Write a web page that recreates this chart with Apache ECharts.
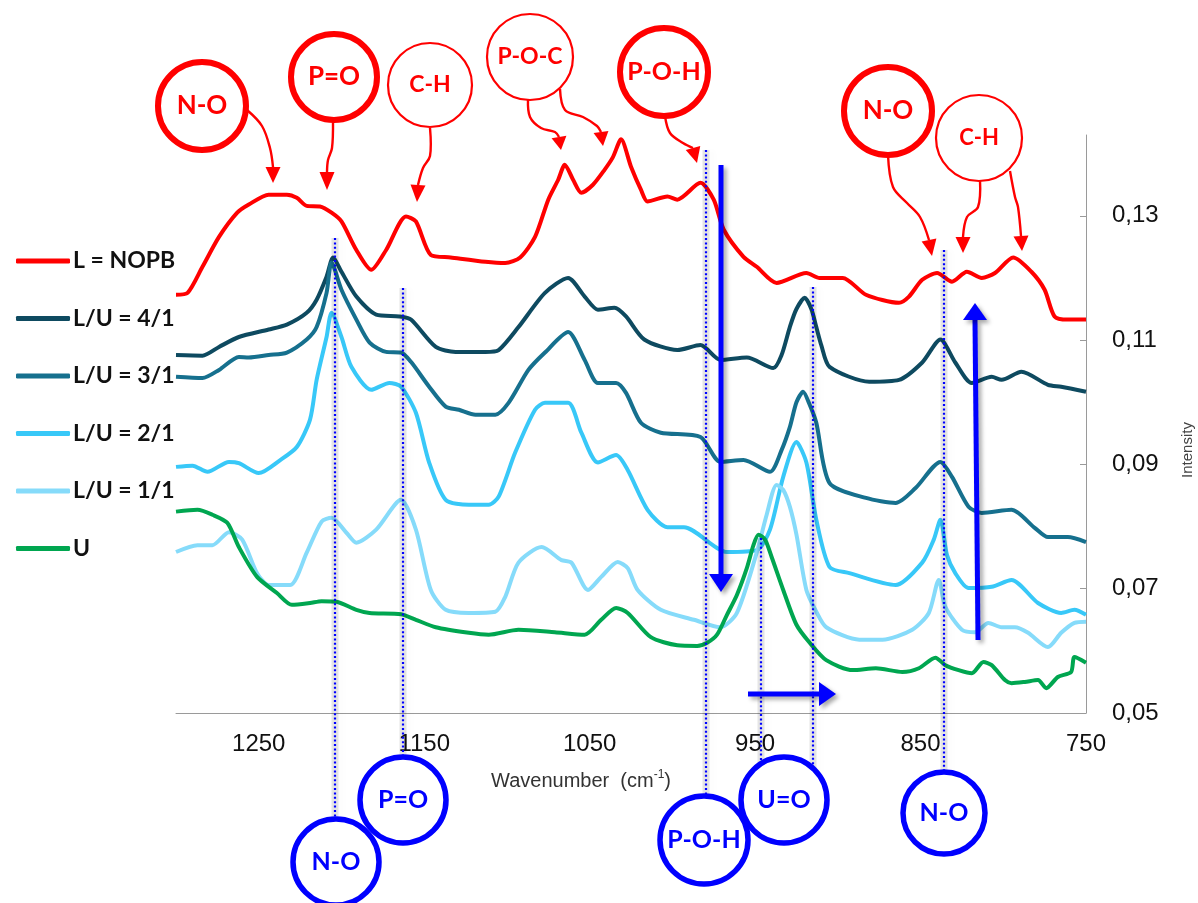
<!DOCTYPE html>
<html><head><meta charset="utf-8">
<script src="https://cdn.jsdelivr.net/npm/echarts@6/dist/echarts.min.js"></script>
<style>html,body{margin:0;padding:0;background:#fff}#c{width:1198px;height:903px}</style>
</head><body><div id="c"></div>
<script>
// ---- data (wavenumber cm-1, intensity) ----
const seriesNames = ['L = NOPB', 'L/U = 4/1', 'L/U = 3/1', 'L/U = 2/1', 'L/U = 1/1', 'U'];
const xTicks = [1250, 1150, 1050, 950, 850, 750];
const yTicks = [0.05, 0.07, 0.09, 0.11, 0.13];

const nopb = [[1300,0.1173],[1293,0.1176],[1284,0.1218],[1274,0.1266],[1263,0.1305],[1256,0.1318],[1244,0.1334],[1233,0.1334],[1227,0.1329],[1221,0.1316],[1213,0.1315],[1206,0.1305],[1200,0.1291],[1191,0.1245],[1182,0.1213],[1173,0.1245],[1161,0.1299],[1155,0.1291],[1146,0.1237],[1134,0.1233],[1113,0.1226],[1101,0.1224],[1092,0.1233],[1083,0.1266],[1075,0.1326],[1069,0.1358],[1065,0.1382],[1060,0.1358],[1055,0.1337],[1048,0.1350],[1041,0.1374],[1036,0.1394],[1031,0.1423],[1025,0.1379],[1019,0.1342],[1015,0.1323],[1003,0.1331],[997,0.1326],[983,0.1353],[975,0.1326],[969,0.1278],[957,0.1234],[949,0.1218],[937,0.1192],[919,0.1208],[911,0.1200],[897,0.1200],[883,0.1173],[863,0.1160],[857,0.1170],[849,0.1197],[840,0.1208],[831,0.1194],[822,0.1210],[813,0.1200],[805,0.1208],[794,0.1233],[783,0.1210],[775,0.1181],[769,0.1138],[761,0.1133],[750,0.1133]];

const lu41 = [[1300,0.1076],[1284,0.1075],[1274,0.1089],[1262,0.1105],[1244,0.1117],[1233,0.1125],[1221,0.1144],[1215,0.1165],[1209,0.1202],[1205,0.1233],[1200,0.1210],[1191,0.1170],[1179,0.1141],[1165,0.1138],[1158,0.1133],[1143,0.1089],[1131,0.1081],[1113,0.1081],[1105,0.1084],[1093,0.1121],[1077,0.1176],[1063,0.1200],[1053,0.1170],[1045,0.1149],[1035,0.1152],[1028,0.1138],[1017,0.1101],[997,0.1084],[983,0.1092],[971,0.1068],[955,0.1072],[939,0.1055],[934,0.1076],[929,0.1121],[925,0.1150],[920,0.1168],[916,0.1150],[913,0.1121],[910,0.1092],[905,0.1057],[881,0.1033],[863,0.1036],[849,0.1064],[838,0.1101],[829,0.1064],[819,0.1031],[807,0.1041],[801,0.1036],[789,0.1049],[773,0.1028],[765,0.1025],[750,0.1017]];

const lu31 = [[1300,0.1041],[1284,0.1039],[1274,0.1052],[1262,0.1073],[1256,0.1072],[1244,0.1076],[1233,0.1080],[1221,0.1101],[1215,0.1121],[1209,0.1176],[1206,0.1225],[1200,0.1181],[1191,0.1133],[1183,0.1096],[1173,0.1081],[1164,0.1080],[1158,0.1065],[1147,0.1025],[1137,0.0993],[1129,0.0988],[1119,0.0980],[1107,0.0980],[1099,0.0999],[1087,0.1052],[1077,0.1080],[1063,0.1113],[1053,0.1068],[1045,0.1031],[1034,0.1031],[1028,0.1015],[1019,0.0967],[1007,0.0951],[983,0.0944],[971,0.0904],[957,0.0907],[941,0.0888],[934,0.0923],[929,0.0960],[925,0.1000],[921,0.1017],[917,0.0996],[913,0.0967],[905,0.0870],[883,0.0846],[865,0.0838],[853,0.0862],[838,0.0904],[831,0.0880],[821,0.0832],[813,0.0822],[795,0.0827],[781,0.0798],[773,0.0783],[761,0.0783],[750,0.0775]];

const lu21 = [[1300,0.0896],[1290,0.0898],[1281,0.0888],[1268,0.0904],[1262,0.0902],[1250,0.0886],[1237,0.0907],[1227,0.0928],[1219,0.0972],[1215,0.1036],[1209,0.1105],[1206,0.1144],[1200,0.1105],[1194,0.1057],[1182,0.1020],[1171,0.1031],[1164,0.1025],[1155,0.0983],[1147,0.0903],[1137,0.0843],[1123,0.0835],[1111,0.0835],[1105,0.0848],[1095,0.0919],[1083,0.0988],[1077,0.0999],[1063,0.0999],[1055,0.0951],[1045,0.0903],[1034,0.0915],[1027,0.0891],[1015,0.0827],[1003,0.0799],[993,0.0799],[967,0.0759],[949,0.0762],[941,0.0795],[933,0.0880],[925,0.0936],[919,0.0903],[913,0.0811],[905,0.0735],[893,0.0725],[865,0.0706],[849,0.0742],[842,0.0779],[838,0.0811],[834,0.0754],[829,0.0725],[821,0.0701],[807,0.0703],[795,0.0714],[779,0.0677],[765,0.0661],[757,0.0666],[750,0.0658]];

const lu11 = [[1300,0.0759],[1287,0.0770],[1278,0.0770],[1268,0.0791],[1260,0.0779],[1251,0.0725],[1244,0.0706],[1231,0.0706],[1221,0.0758],[1212,0.0808],[1206,0.0814],[1197,0.0790],[1191,0.0774],[1179,0.0795],[1164,0.0843],[1155,0.0795],[1146,0.0698],[1137,0.0666],[1123,0.0661],[1107,0.0663],[1101,0.0687],[1093,0.0742],[1079,0.0767],[1067,0.0746],[1061,0.0742],[1051,0.0698],[1043,0.0719],[1033,0.0743],[1027,0.0733],[1021,0.0698],[1007,0.0666],[987,0.0650],[971,0.0638],[961,0.0661],[949,0.0758],[943,0.0819],[937,0.0867],[933,0.0859],[929,0.0832],[925,0.0787],[919,0.0698],[913,0.0663],[907,0.0638],[887,0.0618],[873,0.0618],[855,0.0634],[845,0.0661],[839,0.0714],[835,0.0671],[825,0.0634],[817,0.0630],[809,0.0645],[801,0.0638],[793,0.0638],[785,0.0629],[773,0.0606],[765,0.0629],[757,0.0645],[750,0.0647]];

const uranyl = [[1300,0.0824],[1287,0.0827],[1278,0.0819],[1269,0.0806],[1262,0.0767],[1251,0.0719],[1239,0.0693],[1230,0.0674],[1219,0.0677],[1212,0.0680],[1203,0.0679],[1191,0.0666],[1183,0.0661],[1164,0.0659],[1155,0.0650],[1143,0.0638],[1123,0.0629],[1111,0.0626],[1093,0.0634],[1071,0.0630],[1053,0.0626],[1043,0.0650],[1034,0.0669],[1027,0.0661],[1013,0.0622],[997,0.0609],[985,0.0608],[979,0.0613],[973,0.0626],[967,0.0658],[961,0.0690],[955,0.0733],[951,0.0770],[948,0.0787],[944,0.0779],[940,0.0751],[933,0.0698],[925,0.0642],[917,0.0613],[907,0.0585],[891,0.0569],[877,0.0572],[861,0.0566],[851,0.0572],[841,0.0589],[835,0.0577],[827,0.0569],[819,0.0564],[812,0.0582],[807,0.0577],[799,0.0553],[795,0.0548],[787,0.0550],[779,0.0553],[774,0.0540],[767,0.0558],[759,0.0566],[757,0.0590],[750,0.0581]];

const seriesData = [nopb, lu41, lu31, lu21, lu11, uranyl];
const colors = ['#FF0000', '#0E4A60', '#16708E', '#38C8F8', '#86DBFA', '#00A650'];

// ---- annotation helpers ----
const RED = '#FF0000', BLUE = '#0000FF';
const G = [];
function bubble(cx, cy, r, color, lw, text, fs, fill) {
  G.push({type:'circle', z:120, shape:{cx, cy, r}, style:{fill: fill || 'rgba(255,255,255,0)', stroke: color, lineWidth: lw}});
  G.push({type:'text', z:121, style:{text, x:cx, y:cy, fill:color, font:'bold ' + fs + 'px Lato, "Open Sans", sans-serif', align:'center', verticalAlign:'middle', textAlign:'center', textVerticalAlign:'middle'}});
}
function head(tip, base, hw, color, z, shadow) {
  const dx = tip[0]-base[0], dy = tip[1]-base[1], L = Math.hypot(dx, dy);
  const px = -dy/L*hw, py = dx/L*hw;
  const st = {fill: color};
  if (shadow) Object.assign(st, shadow);
  G.push({type:'polygon', z, shape:{points:[tip,[base[0]+px, base[1]+py],[base[0]-px, base[1]-py]]}, style: st});
}
function redArrow(pts, tip) {
  G.push({type:'polyline', z:110, shape:{points:pts, smooth:0.35}, style:{stroke:RED, lineWidth:2.4, fill:null}});
  head(tip, pts[pts.length-1], 7.5, RED, 111);
}
const SH = {shadowColor:'rgba(0,0,0,0.35)', shadowBlur:4, shadowOffsetX:3, shadowOffsetY:3};
function dotted(x, y1, y2) {
  G.push({type:'line', z:105, shape:{x1:x, y1, x2:x, y2}, style:{stroke:'rgba(0,0,0,0.10)', lineWidth:7, lineDash:null, shadowColor:'rgba(0,0,0,0.15)', shadowBlur:6, shadowOffsetX:5}});
  G.push({type:'line', z:106, shape:{x1:x, y1, x2:x, y2}, style:{stroke:BLUE, lineWidth:2.2, lineDash:[2,2.4]}});
}
function blueArrow(p1, p2, tip) {
  G.push({type:'line', z:108, shape:{x1:p1[0], y1:p1[1], x2:p2[0], y2:p2[1]}, style:Object.assign({stroke:BLUE, lineWidth:5}, SH)});
  head(tip, p2, 12, BLUE, 109, SH);
}

// red labels (top)
bubble(202, 106, 44, RED, 6, 'N-O', 26);
bubble(334, 77, 43, RED, 6, 'P=O', 26);
bubble(430, 85, 42, RED, 2.2, 'C-H', 23);
bubble(530, 57, 43, RED, 2.2, 'P-O-C', 23);
bubble(664, 72, 44, RED, 6, 'P-O-H', 25);
bubble(888, 111, 44, RED, 6, 'N-O', 26);
bubble(979, 138, 43, RED, 2.2, 'C-H', 22);
redArrow([[247,110],[262,126],[270,148],[273,167]], [273,183]);
redArrow([[333,121],[332,148],[328,160],[327,172]], [327,190]);
redArrow([[430,128],[430,156],[423,168],[418,185]], [417,202]);
redArrow([[528,99],[530,117],[541,128],[555,132],[559,137]], [561,150]);
redArrow([[560,89],[565,110],[583,117],[597,126],[601,132]], [603,146]);
redArrow([[665,116],[670,133],[683,143],[693,148]], [697,163]);
redArrow([[888,155],[893,187],[907,203],[920,217],[929,240]], [932,256]);
redArrow([[980,180],[978,207],[967,217],[963,237]], [963,253]);
redArrow([[1010,171],[1015,197],[1018,207],[1021,236]], [1022,251]);

// blue dotted guide lines
dotted(335, 238, 830);
dotted(403, 288, 765);
dotted(706, 150, 800);
dotted(761, 538, 770);
dotted(813, 287, 775);
dotted(944, 250, 775);

// blue arrows
blueArrow([721,165], [721,574], [721,592]);
blueArrow([978,640], [975,320], [975,303]);
blueArrow([748,694], [819,694], [836,694]);

// blue labels (bottom)
bubble(403, 800, 43, BLUE, 5.5, 'P=O', 25, '#fff');
bubble(336, 862, 43, BLUE, 5.5, 'N-O', 25, '#fff');
bubble(704, 840, 44, BLUE, 5.5, 'P-O-H', 25, '#fff');
bubble(784, 800, 43, BLUE, 5.5, 'U=O', 25, '#fff');
bubble(944, 813, 41, BLUE, 5.5, 'N-O', 25, '#fff');

const chart = echarts.init(document.getElementById('c'));
chart.setOption({
  animation: false,
  backgroundColor: '#fff',
  color: colors,
  grid: {left: 176, right: 112, top: 135, bottom: 190, containLabel: false, outerBoundsMode: 'none'},
  legend: {
    orient: 'vertical', left: 11, top: 243,
    itemWidth: 54, itemHeight: 5, itemGap: 31.5, icon: 'roundRect',
    data: seriesNames,
    textStyle: {fontFamily: 'Lato, "Open Sans", sans-serif', fontWeight: 'bold', fontSize: 23, color: '#111', lineHeight: 26, padding:[0,0,0,-2]}
  },
  xAxis: {
    type: 'value', inverse: true, min: 750, max: 1300,
    axisLine: {show: true, onZero: false, lineStyle: {color: '#9a9a9a', width: 1}},
    axisTick: {show: false},
    splitLine: {show: false},
    axisLabel: {customValues: xTicks, formatter: v => String(v), fontSize: 24, color: '#111', fontFamily: '"Liberation Sans", Arial, sans-serif', margin: 19},
    name: '{a|Wavenumber  (cm}{s|-1}{a|)}',
    nameLocation: 'middle', nameGap: 56,
    nameTextStyle: {padding: [0, 100, 0, 0], rich: {
      a: {fontSize: 20, lineHeight: 24, color: '#333', fontFamily: '"Liberation Sans", Arial, sans-serif'},
      s: {fontSize: 12, lineHeight: 14, color: '#333', verticalAlign: 'top', fontFamily: '"Liberation Sans", Arial, sans-serif'}
    }}
  },
  yAxis: {
    type: 'value', position: 'right', min: 0.05, max: 0.143,
    axisLine: {show: true, lineStyle: {color: '#9a9a9a', width: 1}},
    axisTick: {show: true, inside: true, length: 6, customValues: yTicks, lineStyle: {color: '#9a9a9a'}},
    splitLine: {show: false},
    axisLabel: {customValues: yTicks, formatter: v => v.toFixed(2).replace('.', ','), fontSize: 24, color: '#111', fontFamily: '"Liberation Sans", Arial, sans-serif', margin: 26},
    name: 'Intensity', nameLocation: 'middle', nameRotate: 90, nameGap: 94,
    nameTextStyle: {fontSize: 15, color: '#444', fontFamily: '"Liberation Sans", Arial, sans-serif', padding: [0, 52, 0, 0]}
  },
  series: seriesNames.map((n, i) => ({
    name: n, type: 'line', data: seriesData[i], showSymbol: false, symbol: 'none',
    smooth: 0.25, lineStyle: {width: 4, color: colors[i]}, itemStyle: {color: colors[i]}, z: 2 + i
  })),
  graphic: G
});
</script></body></html>
